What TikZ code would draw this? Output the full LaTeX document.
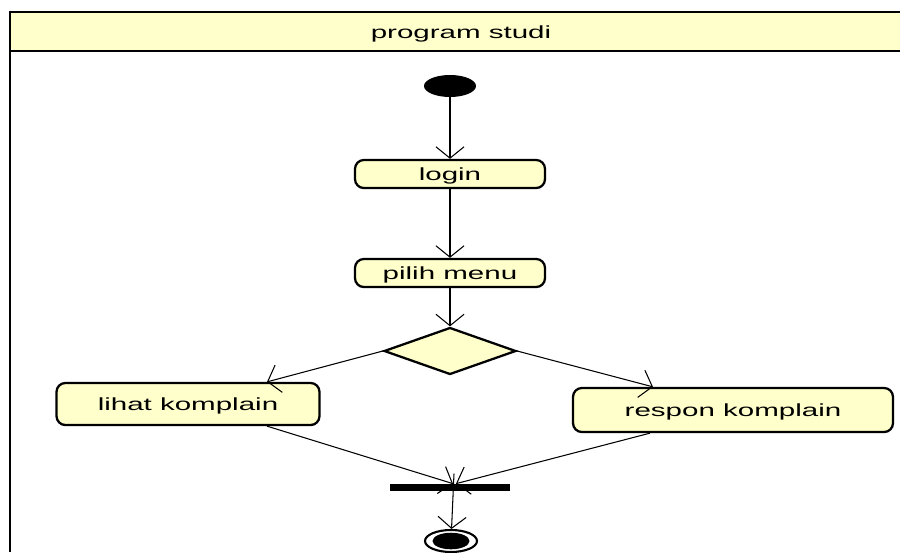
\documentclass[tikz,border=0pt]{standalone}
\usepackage{fontspec}
\setmainfont{Liberation Sans}
\newfontfamily\actfont{Liberation Sans}[FakeStretch=1.68]
\usetikzlibrary{arrows.meta,shapes.geometric,calc}
\definecolor{actfill}{RGB}{255,255,204}

\begin{document}
\begin{tikzpicture}[x=0.02cm,y=-0.02cm,
		flow/.style={->,>={Straight Barb[length=6.5pt,width=16pt]},line width=0.6pt},
		action/.style={draw,line width=1.3pt,rounded corners=5pt,fill=actfill,inner sep=0pt,text depth=0pt,font=\actfont\fontsize{10}{12}\selectfont}]
		\useasboundingbox (0,0) rectangle (900,552);
		% swimlane
		\fill[actfill] (10,12) rectangle (900,51);
		\draw[line width=1.7pt] (900,12) -- (10,12) -- (10,552);
		\draw[line width=1.1pt] (10,51) -- (900,51);
		\node[text depth=0pt,font=\actfont\fontsize{10}{12}\selectfont] (lane) at (461,32) {program studi};
		% activities
		\node[ellipse,fill=black,minimum width=1.04cm,minimum height=0.44cm] (init) at (450,86) {};
		\node[action,minimum width=3.8cm,minimum height=0.56cm] (login) at (450,174) {login};
		\node[action,minimum width=3.8cm,minimum height=0.56cm] (menu) at (450,273) {pilih menu};
		\node[diamond,draw,line width=1.3pt,fill=actfill,inner sep=0pt,minimum width=2.64cm,minimum height=0.94cm] (choice) at (450,351) {};
		\node[action,minimum width=5.26cm,minimum height=0.84cm] (lihat) at (188,404) {lihat komplain};
		\node[action,minimum width=6.4cm,minimum height=0.88cm] (respon) at (733,410) {respon komplain};
		\node[fill=black,minimum width=2.4cm,minimum height=0.14cm,inner sep=0pt] (join) at (450,487.5) {};
		\node[ellipse,draw,line width=1.2pt,minimum width=1.04cm,minimum height=0.44cm] (final) at (451,541) {};
		\node[ellipse,fill=black,minimum width=0.74cm,minimum height=0.28cm] (finaldot) at (451,541) {};
		% transitions
		\draw[flow] (init) -- (login);
		\draw[flow] (login) -- (menu);
		\draw[flow] (menu) -- (choice);
		\draw[flow] (choice.west) -- ($(lihat.north)+(79,0)$);
		\draw[flow] (choice.east) -- ($(respon.north)+(-80,0)$);
		\draw[flow] ($(lihat.south)+(79,0)$) -- ($(join.north)+(3,0)$);
		\draw[flow] ($(respon.south)+(-83,0)$) -- ($(join.north)+(6,0)$);
		\draw[flow] ($(join.north)+(4,-10)$) -- (final);
\end{tikzpicture}
\end{document}
